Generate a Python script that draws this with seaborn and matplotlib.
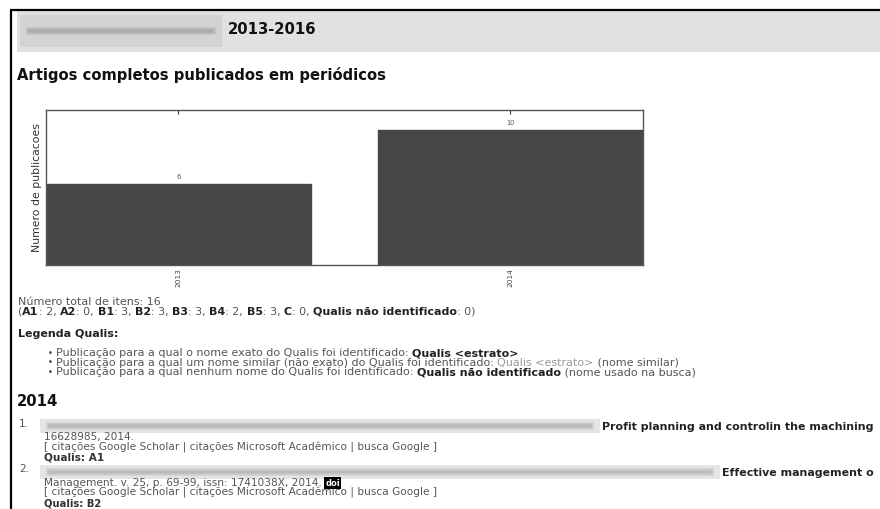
import matplotlib
matplotlib.use("Agg")
import matplotlib.pyplot as plt
import pandas as pd
import seaborn as sns
from matplotlib.patches import Rectangle
from matplotlib.lines import Line2D

# dados do grafico
anos = ["2013", "2014"]
publicacoes = [6, 10]

# resumo Qualis
estratos = ["A1", "A2", "B1", "B2", "B3", "B4", "B5", "C"]
contagem_estrato = [2, 0, 3, 3, 3, 2, 3, 0]
nao_identificado = 0
total_itens = 16

sns.set_style("white")
plt.rcParams["font.family"] = ["DejaVu Sans"]

W, H = 880, 509
fig = plt.figure(figsize=(W / 100, H / 100), dpi=100)
fig.patch.set_facecolor("white")
rend = fig.canvas.get_renderer()

CINZA = "#555555"
ESCURO = "#222222"
TAM = 8.0
TAM_ITEM = 7.6


def fx(x):
    return x / W


def fy(y):
    return 1 - y / H


def caixa(x0, y0, x1, y1, cor, alpha=1.0):
    fig.add_artist(Rectangle((fx(x0), fy(y1)), fx(x1) - fx(x0), fy(y0) - fy(y1),
                             transform=fig.transFigure, facecolor=cor,
                             edgecolor="none", alpha=alpha))


def borrao(x0, y0, x1, y1, fundo="#e4e4e4", tinta="#9a9a9a"):
    # trecho borrado (nomes de autores)
    caixa(x0, y0, x1, y1, fundo)
    meio = (y0 + y1) / 2
    for k in range(4):
        caixa(x0 + 6 + k, meio - 4 + k, x1 - 6 - k, meio + 4 - k, tinta, alpha=0.18)


def linha(x, y, partes, size=TAM):
    for txt, peso, cor in partes:
        t = fig.text(fx(x), fy(y), txt, fontsize=size, fontweight=peso,
                     color=cor, va="center", ha="left")
        x += t.get_window_extent(renderer=rend).width
    return x


# moldura e cabecalho
fig.add_artist(Line2D([fx(11), fx(880)], [fy(10), fy(10)], color="black", lw=1.6,
                      transform=fig.transFigure))
fig.add_artist(Line2D([fx(11), fx(11)], [fy(10), fy(509)], color="black", lw=1.6,
                      transform=fig.transFigure))
caixa(17, 11, 880, 52, "#e1e1e1")
borrao(20, 15, 222, 47, fundo="#d3d3d3", tinta="#8c8c8c")
fig.text(fx(228), fy(29), "2013-2016", fontsize=10.7, fontweight="bold",
         color="#111111", va="center")
fig.text(fx(17), fy(75), "Artigos completos publicados em periódicos",
         fontsize=10.6, fontweight="bold", color="#111111", va="center")

# grafico de barras
ax = fig.add_axes([fx(45.7), fy(265), fx(643) - fx(45.7), fy(110) - fy(265)])
df = pd.DataFrame({"ano": anos, "publicacoes": publicacoes})
sns.barplot(data=df, x="ano", y="publicacoes", color="#474747", saturation=1,
            width=0.8, edgecolor="#474747", ax=ax)
ax.set_xlim(-0.4, len(anos) - 0.6)
ax.set_ylim(0, max(publicacoes) * 1.15)
ax.set_yticks([])
ax.set_xlabel("")
ax.set_ylabel("Numero de publicacoes", fontsize=7.8, color="#333333", labelpad=3)
ax.tick_params(axis="x", direction="in", top=True, length=3, width=0.8,
               color="#333333", labelsize=5.3, labelcolor="#444444",
               labelrotation=90, pad=2)
for sp in ax.spines.values():
    sp.set_color("#555555")
    sp.set_linewidth(1)
ax.bar_label(ax.containers[0], fontsize=4.8, color="#555555", padding=3)

# totais
linha(18, 302, [(f"Número total de itens: {total_itens}", "normal", CINZA)])
partes = [("(", "normal", CINZA)]
for e, c in zip(estratos, contagem_estrato):
    partes += [(e, "bold", ESCURO), (f": {c}, ", "normal", CINZA)]
partes += [("Qualis não identificado", "bold", ESCURO),
           (f": {nao_identificado})", "normal", CINZA)]
linha(18, 312, partes)

linha(18, 334, [("Legenda Qualis:", "bold", ESCURO)])
legenda = [
    [("Publicação para a qual o nome exato do Qualis foi identificado: ", "normal", CINZA),
     ("Qualis <estrato>", "bold", ESCURO)],
    [("Publicação para a qual um nome similar (não exato) do Qualis foi identificado: ", "normal", CINZA),
     ("Qualis <estrato>", "normal", "#9a9a9a"), (" (nome similar)", "normal", CINZA)],
    [("Publicação para a qual nenhum nome do Qualis foi identificado: ", "normal", CINZA),
     ("Qualis não identificado", "bold", ESCURO), (" (nome usado na busca)", "normal", CINZA)],
]
for i, p in enumerate(legenda):
    y = 353 + i * 9.7
    linha(48, y, [("•", "normal", "#333333")], size=6)
    linha(56, y, p)

fig.text(fx(17), fy(401), "2014", fontsize=10.7, fontweight="bold",
         color="#111111", va="center")

# itens
citacoes = "[ citações Google Scholar | citações Microsoft Acadêmico | busca Google ]"
linha(19, 424, [("1.", "normal", CINZA)], size=TAM_ITEM)
borrao(40, 419, 600, 433)
linha(602, 427, [("Profit planning and controlin the machining", "bold", ESCURO)], size=7.9)
linha(44, 437, [("16628985, 2014.", "normal", CINZA)], size=TAM_ITEM)
linha(44, 447.5, [(citacoes, "normal", CINZA)], size=TAM_ITEM)
linha(44, 458, [("Qualis: A1", "bold", "#333333")], size=TAM_ITEM)

linha(19, 469, [("2.", "normal", CINZA)], size=TAM_ITEM)
borrao(40, 465, 720, 479)
linha(722, 473, [("Effective management o", "bold", ESCURO)], size=7.9)
xf = linha(44, 483, [("Management. v. 25, p. 69-99, issn: 1741038X, 2014. ", "normal", CINZA)],
           size=TAM_ITEM)
fig.text(fx(xf), fy(483), "doi", fontsize=6, fontweight="bold", color="white",
         va="center", ha="left",
         bbox=dict(facecolor="black", edgecolor="none", pad=0.8))
linha(44, 493, [(citacoes, "normal", CINZA)], size=TAM_ITEM)
linha(44, 503.5, [("Qualis: B2", "bold", "#333333")], size=7.2)

fig.savefig("out.png", dpi=100)
plt.close(fig)
